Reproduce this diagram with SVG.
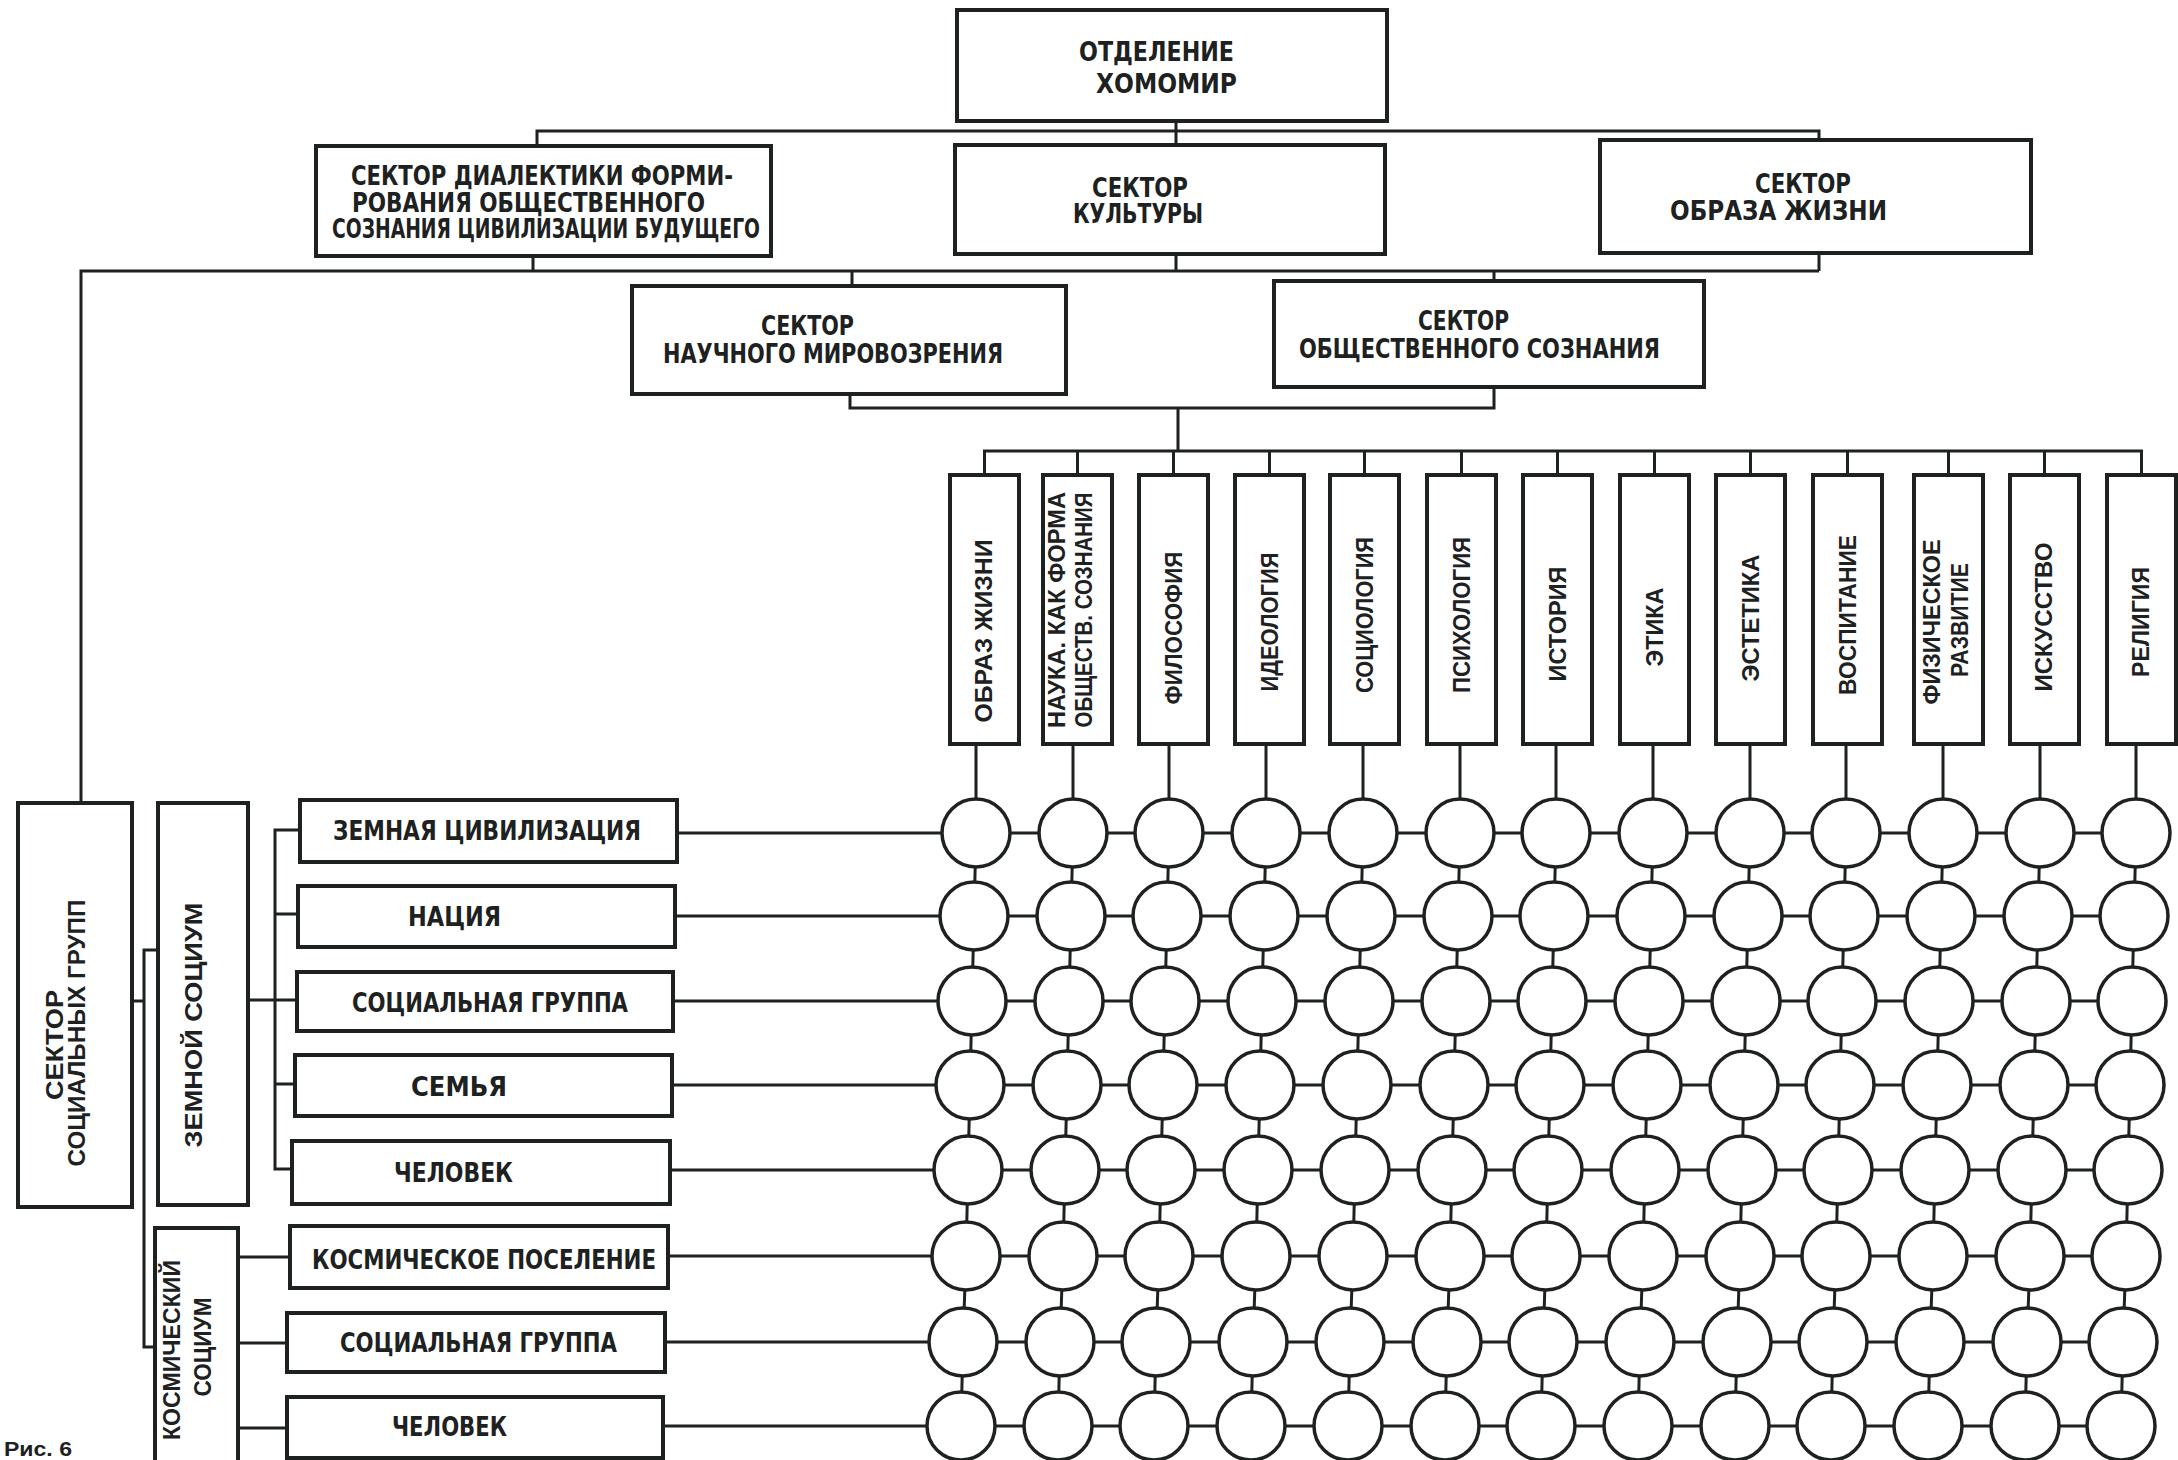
<svg xmlns="http://www.w3.org/2000/svg" width="2178" height="1460" viewBox="0 0 2178 1460">
<style>
.box{fill:#fff;stroke:#1d211f;stroke-width:4}
.ln{fill:none;stroke:#1d211f;stroke-width:3}
.c{fill:#fff;stroke:#1d211f;stroke-width:3.5}
.t{font-family:"Liberation Sans Narrow","DejaVu Sans Condensed","Liberation Sans",sans-serif;font-weight:bold;fill:#1d211f;font-size:26px}
.v{font-family:"Liberation Sans",Arial,sans-serif;font-weight:bold;fill:#1d211f;font-size:24px;text-anchor:middle}
</style>
<rect width="2178" height="1460" fill="#fff"/>
<g id="connectors" class="ln">
<path d="M1176 121V145M537 146V131H1819V140"/>
<path d="M533 256V271M1176 254V271M1819 253V271M81 803V271H1819M852 271V286M1494 271V281"/>
<path d="M850 394V408H1494V387M1178 408V451M984.5 475V451H2141.5V475"/>
<path d="M1077.5 451V475M1173.5 451V475M1269.5 451V475M1364.5 451V475M1461.5 451V475M1557.5 451V475M1654.5 451V475M1750.5 451V475M1847.5 451V475M1948.5 451V475M2044.5 451V475"/>
<path d="M132 1001H144M158 950H144V1347H155"/>
<path d="M248 1000H297M300 830H275V1169H292M275 914H298M275 1084H295"/>
<path d="M238 1257H290M238 1343H287M238 1428H287"/>
<path d="M677 833H2136M675 916H2134M673 1001H2132M672 1085H2130M670 1170H2128M668 1256H2126M665 1342H2123M663 1426H2121"/>
<path d="M976 744L976 833L974 916L972 1001L970 1085L968 1170L966 1256L963 1342L961 1426"/>
<path d="M1073 744L1073 833L1071 916L1069 1001L1067 1085L1065 1170L1063 1256L1060 1342L1058 1426"/>
<path d="M1169 744L1169 833L1167 916L1165 1001L1163 1085L1161 1170L1159 1256L1156 1342L1154 1426"/>
<path d="M1266 744L1266 833L1264 916L1262 1001L1260 1085L1258 1170L1256 1256L1253 1342L1251 1426"/>
<path d="M1363 744L1363 833L1361 916L1359 1001L1357 1085L1355 1170L1353 1256L1350 1342L1348 1426"/>
<path d="M1460 744L1460 833L1458 916L1456 1001L1454 1085L1452 1170L1450 1256L1447 1342L1445 1426"/>
<path d="M1556 744L1556 833L1554 916L1552 1001L1550 1085L1548 1170L1546 1256L1543 1342L1541 1426"/>
<path d="M1653 744L1653 833L1651 916L1649 1001L1647 1085L1645 1170L1643 1256L1640 1342L1638 1426"/>
<path d="M1750 744L1750 833L1748 916L1746 1001L1744 1085L1742 1170L1740 1256L1737 1342L1735 1426"/>
<path d="M1846 744L1846 833L1844 916L1842 1001L1840 1085L1838 1170L1836 1256L1833 1342L1831 1426"/>
<path d="M1943 744L1943 833L1941 916L1939 1001L1937 1085L1935 1170L1933 1256L1930 1342L1928 1426"/>
<path d="M2040 744L2040 833L2038 916L2036 1001L2034 1085L2032 1170L2030 1256L2027 1342L2025 1426"/>
<path d="M2136 744L2136 833L2134 916L2132 1001L2130 1085L2128 1170L2126 1256L2123 1342L2121 1426"/>
</g>

<g id="n-otdelenie"><rect class="box" x="957" y="10" width="430" height="111"/>
<text class="t" x="1079" y="61" font-size="33" textLength="155" lengthAdjust="spacingAndGlyphs">ОТДЕЛЕНИЕ</text>
<text class="t" x="1096" y="93" font-size="33" textLength="141" lengthAdjust="spacingAndGlyphs">ХОМОМИР</text></g>

<g id="n-dialektika"><rect class="box" x="316" y="146" width="455" height="110"/>
<text class="t" x="351" y="185" font-size="25" textLength="382" lengthAdjust="spacingAndGlyphs">СЕКТОР ДИАЛЕКТИКИ ФОРМИ-</text>
<text class="t" x="352" y="212" font-size="25" textLength="353" lengthAdjust="spacingAndGlyphs">РОВАНИЯ ОБЩЕСТВЕННОГО</text>
<text class="t" x="332" y="238" font-size="25" textLength="428" lengthAdjust="spacingAndGlyphs">СОЗНАНИЯ ЦИВИЛИЗАЦИИ БУДУЩЕГО</text></g>

<g id="n-kultura"><rect class="box" x="955" y="145" width="430" height="109"/>
<text class="t" x="1092" y="197" font-size="27" textLength="96" lengthAdjust="spacingAndGlyphs">СЕКТОР</text>
<text class="t" x="1073" y="223" font-size="27" textLength="130" lengthAdjust="spacingAndGlyphs">КУЛЬТУРЫ</text></g>

<g id="n-obraz"><rect class="box" x="1600" y="140" width="431" height="113"/>
<text class="t" x="1755" y="193" font-size="27" textLength="96" lengthAdjust="spacingAndGlyphs">СЕКТОР</text>
<text class="t" x="1670" y="220" font-size="27" textLength="217" lengthAdjust="spacingAndGlyphs">ОБРАЗА ЖИЗНИ</text></g>

<g id="n-nauchnoe"><rect class="box" x="632" y="286" width="434" height="108"/>
<text class="t" x="761" y="335" font-size="27" textLength="93" lengthAdjust="spacingAndGlyphs">СЕКТОР</text>
<text class="t" x="663" y="363" font-size="27" textLength="340" lengthAdjust="spacingAndGlyphs">НАУЧНОГО МИРОВОЗРЕНИЯ</text></g>

<g id="n-obshchestvennoe"><rect class="box" x="1274" y="281" width="430" height="106"/>
<text class="t" x="1418" y="330" font-size="27" textLength="91" lengthAdjust="spacingAndGlyphs">СЕКТОР</text>
<text class="t" x="1299" y="358" font-size="27" textLength="361" lengthAdjust="spacingAndGlyphs">ОБЩЕСТВЕННОГО СОЗНАНИЯ</text></g>

<g id="h1"><rect class="box" x="950" y="475" width="69" height="269"/>
<text class="v" transform="translate(992,631) rotate(-90)" textLength="183" lengthAdjust="spacingAndGlyphs">ОБРАЗ ЖИЗНИ</text></g>
<g id="h2"><rect class="box" x="1043" y="475" width="69" height="269"/>
<text class="v" font-size="22" transform="translate(1065,610) rotate(-90)" textLength="236" lengthAdjust="spacingAndGlyphs">НАУКА. КАК ФОРМА</text>
<text class="v" font-size="22" transform="translate(1092,610) rotate(-90)" textLength="235" lengthAdjust="spacingAndGlyphs">ОБЩЕСТВ. СОЗНАНИЯ</text></g>
<g id="h3"><rect class="box" x="1139" y="475" width="69" height="269"/>
<text class="v" transform="translate(1182,628) rotate(-90)" textLength="153" lengthAdjust="spacingAndGlyphs">ФИЛОСОФИЯ</text></g>
<g id="h4"><rect class="box" x="1235" y="475" width="69" height="269"/>
<text class="v" transform="translate(1278,622) rotate(-90)" textLength="139" lengthAdjust="spacingAndGlyphs">ИДЕОЛОГИЯ</text></g>
<g id="h5"><rect class="box" x="1330" y="475" width="69" height="269"/>
<text class="v" transform="translate(1373,615) rotate(-90)" textLength="156" lengthAdjust="spacingAndGlyphs">СОЦИОЛОГИЯ</text></g>
<g id="h6"><rect class="box" x="1427" y="475" width="69" height="269"/>
<text class="v" transform="translate(1470,615) rotate(-90)" textLength="156" lengthAdjust="spacingAndGlyphs">ПСИХОЛОГИЯ</text></g>
<g id="h7"><rect class="box" x="1523" y="475" width="69" height="269"/>
<text class="v" transform="translate(1566,624) rotate(-90)" textLength="115" lengthAdjust="spacingAndGlyphs">ИСТОРИЯ</text></g>
<g id="h8"><rect class="box" x="1620" y="475" width="69" height="269"/>
<text class="v" transform="translate(1663,627) rotate(-90)" textLength="79" lengthAdjust="spacingAndGlyphs">ЭТИКА</text></g>
<g id="h9"><rect class="box" x="1716" y="475" width="69" height="269"/>
<text class="v" transform="translate(1759,618) rotate(-90)" textLength="127" lengthAdjust="spacingAndGlyphs">ЭСТЕТИКА</text></g>
<g id="h10"><rect class="box" x="1813" y="475" width="69" height="269"/>
<text class="v" transform="translate(1856,615) rotate(-90)" textLength="160" lengthAdjust="spacingAndGlyphs">ВОСПИТАНИЕ</text></g>
<g id="h11"><rect class="box" x="1914" y="475" width="69" height="269"/>
<text class="v" font-size="22" transform="translate(1940,622) rotate(-90)" textLength="165" lengthAdjust="spacingAndGlyphs">ФИЗИЧЕСКОЕ</text>
<text class="v" font-size="22" transform="translate(1968,620) rotate(-90)" textLength="114" lengthAdjust="spacingAndGlyphs">РАЗВИТИЕ</text></g>
<g id="h12"><rect class="box" x="2010" y="475" width="69" height="269"/>
<text class="v" transform="translate(2052,617) rotate(-90)" textLength="149" lengthAdjust="spacingAndGlyphs">ИСКУССТВО</text></g>
<g id="h13"><rect class="box" x="2107" y="475" width="69" height="269"/>
<text class="v" transform="translate(2149,622) rotate(-90)" textLength="110" lengthAdjust="spacingAndGlyphs">РЕЛИГИЯ</text></g>

<g id="n-socgroups"><rect class="box" x="18" y="803" width="114" height="404"/>
<text class="v" transform="translate(63,1045) rotate(-90)" textLength="110" lengthAdjust="spacingAndGlyphs">СЕКТОР</text>
<text class="v" transform="translate(85,1033) rotate(-90)" textLength="267" lengthAdjust="spacingAndGlyphs">СОЦИАЛЬНЫХ ГРУПП</text></g>
<g id="n-zemnoy"><rect class="box" x="158" y="803" width="90" height="402"/>
<text class="v" transform="translate(202,1025) rotate(-90)" textLength="245" lengthAdjust="spacingAndGlyphs">ЗЕМНОЙ СОЦИУМ</text></g>
<g id="n-kosmicheskiy"><rect class="box" x="155" y="1228" width="83" height="250"/>
<text class="v" font-size="22" transform="translate(180,1350) rotate(-90)" textLength="180" lengthAdjust="spacingAndGlyphs">КОСМИЧЕСКИЙ</text>
<text class="v" font-size="22" transform="translate(211,1347) rotate(-90)" textLength="99" lengthAdjust="spacingAndGlyphs">СОЦИУМ</text></g>

<g id="r1"><rect class="box" x="300" y="800" width="377" height="62"/>
<text class="t" x="333" y="840" textLength="308" lengthAdjust="spacingAndGlyphs">ЗЕМНАЯ ЦИВИЛИЗАЦИЯ</text></g>
<g id="r2"><rect class="box" x="298" y="886" width="377" height="61"/>
<text class="t" x="408" y="926" textLength="93" lengthAdjust="spacingAndGlyphs">НАЦИЯ</text></g>
<g id="r3"><rect class="box" x="297" y="972" width="376" height="59"/>
<text class="t" x="352" y="1012" textLength="276" lengthAdjust="spacingAndGlyphs">СОЦИАЛЬНАЯ ГРУППА</text></g>
<g id="r4"><rect class="box" x="295" y="1055" width="377" height="61"/>
<text class="t" x="411" y="1096" textLength="96" lengthAdjust="spacingAndGlyphs">СЕМЬЯ</text></g>
<g id="r5"><rect class="box" x="292" y="1141" width="378" height="63"/>
<text class="t" x="394" y="1182" textLength="119" lengthAdjust="spacingAndGlyphs">ЧЕЛОВЕК</text></g>
<g id="r6"><rect class="box" x="290" y="1226" width="378" height="62"/>
<text class="t" x="312" y="1269" textLength="344" lengthAdjust="spacingAndGlyphs">КОСМИЧЕСКОЕ ПОСЕЛЕНИЕ</text></g>
<g id="r7"><rect class="box" x="287" y="1313" width="378" height="59"/>
<text class="t" x="340" y="1352" textLength="277" lengthAdjust="spacingAndGlyphs">СОЦИАЛЬНАЯ ГРУППА</text></g>
<g id="r8"><rect class="box" x="287" y="1397" width="376" height="61"/>
<text class="t" x="392" y="1436" textLength="115" lengthAdjust="spacingAndGlyphs">ЧЕЛОВЕК</text></g>

<g id="matrix" class="c">
<g id="row1"><circle cx="976" cy="833" r="34"/><circle cx="1073" cy="833" r="34"/><circle cx="1169" cy="833" r="34"/><circle cx="1266" cy="833" r="34"/><circle cx="1363" cy="833" r="34"/><circle cx="1460" cy="833" r="34"/><circle cx="1556" cy="833" r="34"/><circle cx="1653" cy="833" r="34"/><circle cx="1750" cy="833" r="34"/><circle cx="1846" cy="833" r="34"/><circle cx="1943" cy="833" r="34"/><circle cx="2040" cy="833" r="34"/><circle cx="2136" cy="833" r="34"/></g>
<g id="row2"><circle cx="974" cy="916" r="34"/><circle cx="1071" cy="916" r="34"/><circle cx="1167" cy="916" r="34"/><circle cx="1264" cy="916" r="34"/><circle cx="1361" cy="916" r="34"/><circle cx="1458" cy="916" r="34"/><circle cx="1554" cy="916" r="34"/><circle cx="1651" cy="916" r="34"/><circle cx="1748" cy="916" r="34"/><circle cx="1844" cy="916" r="34"/><circle cx="1941" cy="916" r="34"/><circle cx="2038" cy="916" r="34"/><circle cx="2134" cy="916" r="34"/></g>
<g id="row3"><circle cx="972" cy="1001" r="34"/><circle cx="1069" cy="1001" r="34"/><circle cx="1165" cy="1001" r="34"/><circle cx="1262" cy="1001" r="34"/><circle cx="1359" cy="1001" r="34"/><circle cx="1456" cy="1001" r="34"/><circle cx="1552" cy="1001" r="34"/><circle cx="1649" cy="1001" r="34"/><circle cx="1746" cy="1001" r="34"/><circle cx="1842" cy="1001" r="34"/><circle cx="1939" cy="1001" r="34"/><circle cx="2036" cy="1001" r="34"/><circle cx="2132" cy="1001" r="34"/></g>
<g id="row4"><circle cx="970" cy="1085" r="34"/><circle cx="1067" cy="1085" r="34"/><circle cx="1163" cy="1085" r="34"/><circle cx="1260" cy="1085" r="34"/><circle cx="1357" cy="1085" r="34"/><circle cx="1454" cy="1085" r="34"/><circle cx="1550" cy="1085" r="34"/><circle cx="1647" cy="1085" r="34"/><circle cx="1744" cy="1085" r="34"/><circle cx="1840" cy="1085" r="34"/><circle cx="1937" cy="1085" r="34"/><circle cx="2034" cy="1085" r="34"/><circle cx="2130" cy="1085" r="34"/></g>
<g id="row5"><circle cx="968" cy="1170" r="34"/><circle cx="1065" cy="1170" r="34"/><circle cx="1161" cy="1170" r="34"/><circle cx="1258" cy="1170" r="34"/><circle cx="1355" cy="1170" r="34"/><circle cx="1452" cy="1170" r="34"/><circle cx="1548" cy="1170" r="34"/><circle cx="1645" cy="1170" r="34"/><circle cx="1742" cy="1170" r="34"/><circle cx="1838" cy="1170" r="34"/><circle cx="1935" cy="1170" r="34"/><circle cx="2032" cy="1170" r="34"/><circle cx="2128" cy="1170" r="34"/></g>
<g id="row6"><circle cx="966" cy="1256" r="34"/><circle cx="1063" cy="1256" r="34"/><circle cx="1159" cy="1256" r="34"/><circle cx="1256" cy="1256" r="34"/><circle cx="1353" cy="1256" r="34"/><circle cx="1450" cy="1256" r="34"/><circle cx="1546" cy="1256" r="34"/><circle cx="1643" cy="1256" r="34"/><circle cx="1740" cy="1256" r="34"/><circle cx="1836" cy="1256" r="34"/><circle cx="1933" cy="1256" r="34"/><circle cx="2030" cy="1256" r="34"/><circle cx="2126" cy="1256" r="34"/></g>
<g id="row7"><circle cx="963" cy="1342" r="34"/><circle cx="1060" cy="1342" r="34"/><circle cx="1156" cy="1342" r="34"/><circle cx="1253" cy="1342" r="34"/><circle cx="1350" cy="1342" r="34"/><circle cx="1447" cy="1342" r="34"/><circle cx="1543" cy="1342" r="34"/><circle cx="1640" cy="1342" r="34"/><circle cx="1737" cy="1342" r="34"/><circle cx="1833" cy="1342" r="34"/><circle cx="1930" cy="1342" r="34"/><circle cx="2027" cy="1342" r="34"/><circle cx="2123" cy="1342" r="34"/></g>
<g id="row8"><circle cx="961" cy="1426" r="34"/><circle cx="1058" cy="1426" r="34"/><circle cx="1154" cy="1426" r="34"/><circle cx="1251" cy="1426" r="34"/><circle cx="1348" cy="1426" r="34"/><circle cx="1445" cy="1426" r="34"/><circle cx="1541" cy="1426" r="34"/><circle cx="1638" cy="1426" r="34"/><circle cx="1735" cy="1426" r="34"/><circle cx="1831" cy="1426" r="34"/><circle cx="1928" cy="1426" r="34"/><circle cx="2025" cy="1426" r="34"/><circle cx="2121" cy="1426" r="34"/></g>
</g>

<text x="4" y="1456" font-family="Liberation Sans, Arial, sans-serif" font-weight="bold" font-size="21" fill="#1d211f" textLength="68" lengthAdjust="spacingAndGlyphs">Рис. 6</text>
</svg>
